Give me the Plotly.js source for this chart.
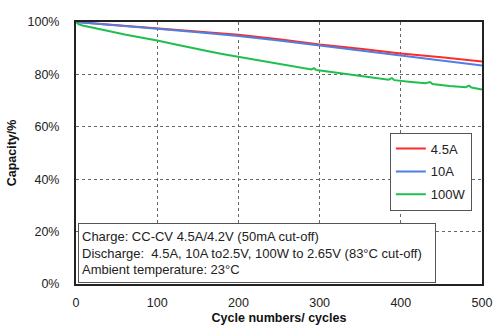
<!DOCTYPE html>
<html>
<head>
<meta charset="utf-8">
<script src="https://cdn.plot.ly/plotly-3.0.1.min.js"></script>
<style>html,body{margin:0;padding:0;background:#fff;}#chart{width:500px;height:333px;}</style>
</head>
<body>
<div id="chart"></div>
<script>
// Data
const seriesNames = ["4.5A", "10A", "100W"];
const cyclesA = [0, 25, 50, 75, 100, 150, 200, 250, 300, 350, 400, 450, 500];
const cap45A = [100, 99.4, 98.9, 98.3, 97.7, 96.5, 95.1, 93.4, 91.4, 89.8, 88.0, 86.5, 84.9];
const cap10A = [100, 99.3, 98.7, 98.0, 97.4, 96.1, 94.7, 92.9, 91.0, 89.2, 87.3, 85.4, 83.4];
const cyclesW = [0, 3, 8, 15, 25, 40, 60, 80, 100, 120, 140, 160, 180, 200, 220, 240, 260, 280, 290, 293, 296, 310, 330, 350, 370, 385, 389, 392, 410, 430, 436, 439, 460, 480, 484, 487, 500];
const cap100W = [100, 99.2, 98.7, 98.3, 97.6, 96.6, 95.2, 94.1, 92.9, 91.6, 90.2, 89.0, 87.8, 86.7, 85.6, 84.6, 83.4, 82.3, 81.9, 82.4, 81.7, 81.1, 80.2, 79.3, 78.4, 78.0, 78.6, 77.8, 77.2, 76.6, 77.1, 76.3, 75.6, 75.1, 75.7, 75.0, 74.2];
const xTicks = [0, 100, 200, 300, 400, 500];
const yTicks = [0, 20, 40, 60, 80, 100];
const noteText = "Charge: CC-CV 4.5A/4.2V (50mA cut-off)<br>Discharge:  4.5A, 10A to2.5V, 100W to 2.65V (83°C cut-off)<br>Ambient temperature: 23°C";

const font = "Liberation Sans, Arial, sans-serif";
const traces = [
  {x: cyclesA, y: cap45A, name: seriesNames[0], legendgroup: "a", mode: "lines", line: {color: "#ff2a2a", width: 2}},
  {x: cyclesA, y: cap10A, name: seriesNames[1], legendgroup: "b", mode: "lines", line: {color: "#4f7fe0", width: 2}},
  {x: cyclesW, y: cap100W, name: seriesNames[2], legendgroup: "c", mode: "lines", line: {color: "#1fbf4f", width: 2}}
];

const layout = {
  width: 500, height: 333,
  margin: {l: 76, r: 18, t: 22, b: 49},
  paper_bgcolor: "#fff", plot_bgcolor: "#fff",
  font: {family: font, size: 12, color: "#222"},
  showlegend: true,
  legend: {
    x: 0.975, xanchor: "right", y: 0.578, yanchor: "top",
    bgcolor: "#fff", bordercolor: "#555", borderwidth: 1,
    font: {family: font, size: 13, color: "#222"},
    itemwidth: 30, traceorder: "grouped", tracegroupgap: 3
  },
  xaxis: {
    range: [0, 500], tickvals: xTicks, ticktext: xTicks.map(String),
    showline: true, mirror: true, linecolor: "#222", linewidth: 2,
    showgrid: true, gridcolor: "#666", griddash: "dot", gridwidth: 1,
    zeroline: false, ticks: "", ticklabelstandoff: 6,
    tickfont: {family: font, size: 12.5, color: "#222"},
    title: {text: "<b>Cycle numbers/ cycles</b>", font: {family: font, size: 12.5, color: "#111"}, standoff: 4}
  },
  yaxis: {
    range: [0, 100], tickvals: yTicks, ticktext: yTicks.map(v => v + "%"),
    showline: true, mirror: true, linecolor: "#222", linewidth: 2,
    showgrid: true, gridcolor: "#666", griddash: "dot", gridwidth: 1,
    zeroline: false, ticks: "", ticklabelstandoff: 12,
    tickfont: {family: font, size: 12.5, color: "#222"},
    title: {text: "<b>Capacity/%</b>", font: {family: font, size: 12.5, color: "#111"}, standoff: 8}
  },
  annotations: [{
    xref: "paper", yref: "paper", x: 0.005, y: 0.004, xanchor: "left", yanchor: "bottom",
    text: noteText, showarrow: false, align: "left",
    width: 350, height: 52,
    font: {family: font, size: 13, color: "#222"},
    bgcolor: "#fff", bordercolor: "#555", borderwidth: 1, borderpad: 3
  }]
};

Plotly.newPlot("chart", traces, layout, {displayModeBar: false, staticPlot: true});
</script>
</body>
</html>
